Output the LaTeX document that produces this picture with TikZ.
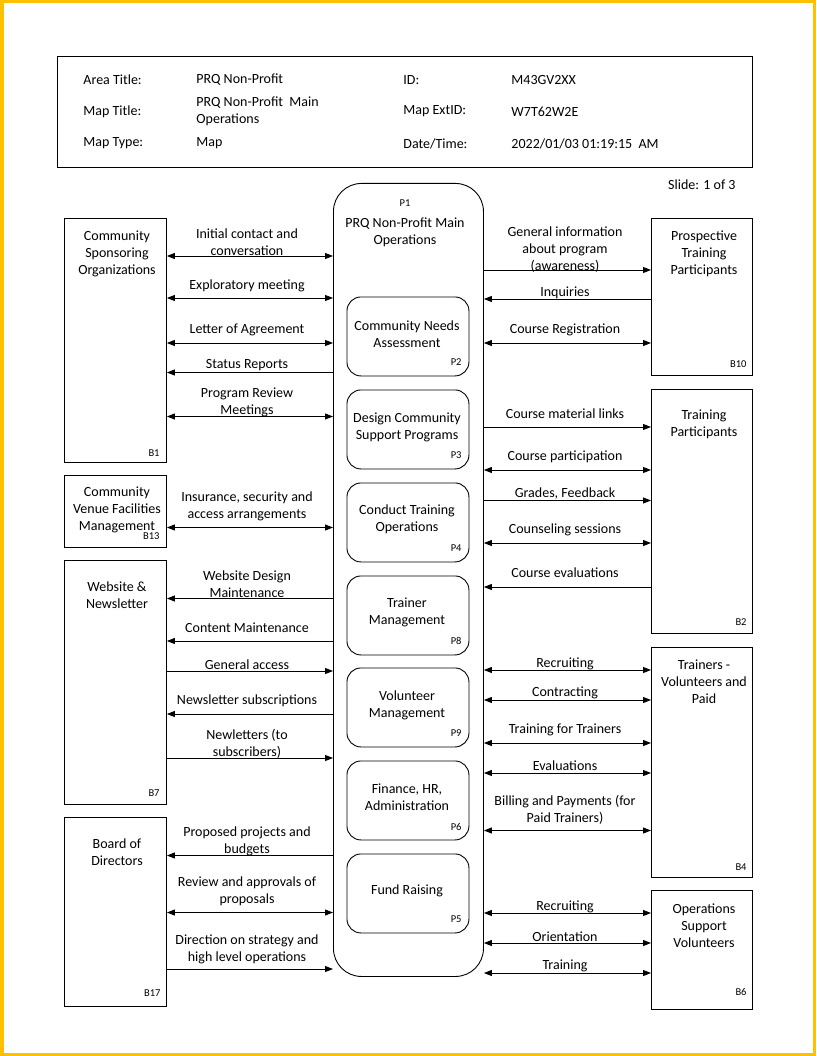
\documentclass[tikz,border=0pt]{standalone}
\usepackage{fontspec}
\setmainfont{Carlito}
\usetikzlibrary{arrows.meta}
\definecolor{frameyellow}{RGB}{255,192,0}
\begin{document}
\begin{tikzpicture}[x=1pt,y=-1pt,line width=0.9pt,
  txt/.style={font=\fontsize{14}{17}\selectfont, align=center, inner sep=0pt, yshift=-1.5pt},
  lft/.style={font=\fontsize{14}{17}\selectfont, align=left, anchor=west, inner sep=0pt, yshift=-1pt},
  idl/.style={font=\fontsize{10.5}{12}\selectfont, inner sep=0pt, anchor=east},
  ext/.style={draw, rectangle, inner sep=0pt, anchor=north west},
  proc/.style={draw, rectangle, rounded corners=14pt, inner sep=0pt, anchor=north west, minimum width=122pt, minimum height=79pt},
  tip/.style={-{Triangle[length=8pt,width=6pt]}},
  both/.style={{Triangle[length=8pt,width=6pt]}-{Triangle[length=8pt,width=6pt]}}]
\useasboundingbox (0,0) rectangle (816,1056);
\draw[frameyellow, line width=3.5pt] (1.75,1.75) rectangle (814.25,1054.25);

% header
\node[ext, minimum width=695pt, minimum height=111pt] (hdr) at (57,56) {};
\node[lft] (h1) at (83,79) {Area Title:};
\node[lft] (h2) at (83,110.5) {Map Title:};
\node[lft] (h3) at (83,142.5) {Map Type:};
\node[lft] (h4) at (196,79) {PRQ Non-Profit};
\node[lft] (h5) at (196,110.5) {PRQ Non-Profit\ \ Main\\Operations};
\node[lft] (h6) at (196,142.5) {Map};
\node[lft] (h7) at (403,79) {ID:};
\node[lft] (h8) at (403,110.5) {Map ExtID:};
\node[lft] (h9) at (403,142.5) {Date/Time:};
\node[lft] (h10) at (511,79) {M43GV2XX};
\node[lft] (h11) at (511,110.5) {W7T62W2E};
\node[lft] (h12) at (511,142.5) {2022/01/03 01:19:15\ \ AM};
\node[txt, anchor=east] (slide) at (736,183) {Slide: 1 of 3};

% main process
\node[draw, rectangle, rounded corners=28pt, inner sep=0pt, anchor=north west, minimum width=150pt, minimum height=793pt] (P1) at (333,183) {};
\node[idl, anchor=center] (P1id) at (405,203) {P1};
\node[txt] (P1t) at (405,231) {PRQ Non-Profit Main\\Operations};

% sub processes
\node[proc] (P2) at (346.5,296.5) {};
\node[txt] (P2t) at (407,333) {Community Needs\\Assessment};
\node[idl] (P2id) at (462,362) {P2};
\node[proc] (P3) at (346.5,389.5) {};
\node[txt] (P3t) at (407,426) {Design Community\\Support Programs};
\node[idl] (P3id) at (462,455) {P3};
\node[proc] (P4) at (346.5,482.5) {};
\node[txt] (P4t) at (407,518) {Conduct Training\\Operations};
\node[idl] (P4id) at (462,548) {P4};
\node[proc] (P8) at (346.5,575.5) {};
\node[txt] (P8t) at (407,611) {Trainer\\Management};
\node[idl] (P8id) at (462,641) {P8};
\node[proc] (P9) at (346.5,667.5) {};
\node[txt] (P9t) at (407,704) {Volunteer\\Management};
\node[idl] (P9id) at (462,733) {P9};
\node[proc] (P6) at (346.5,760.5) {};
\node[txt] (P6t) at (407,796) {Finance, HR,\\Administration};
\node[idl] (P6id) at (462,827) {P6};
\node[proc] (P5) at (346.5,853.5) {};
\node[txt] (P5t) at (407,889.5) {Fund Raising};
\node[idl] (P5id) at (462,919) {P5};

% left external boxes
\node[ext, minimum width=102pt, minimum height=244pt] (B1) at (64,218) {};
\node[txt] (B1t) at (117,252.5) {Community\\Sponsoring\\Organizations};
\node[idl] (B1id) at (160,453) {B1};
\node[ext, minimum width=102pt, minimum height=72pt] (B13) at (64,475) {};
\node[txt] (B13t) at (117,508.5) {Community\\Venue Facilities\\Management};
\node[idl] (B13id) at (160,536) {B13};
\node[ext, minimum width=102pt, minimum height=244pt] (B7) at (64,560) {};
\node[txt] (B7t) at (117,593.5) {Website \&\\Newsletter};
\node[idl] (B7id) at (160,793) {B7};
\node[ext, minimum width=102pt, minimum height=189pt] (B17) at (64,817) {};
\node[txt] (B17t) at (117,851) {Board of\\Directors};
\node[idl] (B17id) at (161,993) {B17};

% right external boxes
\node[ext, minimum width=101pt, minimum height=157pt] (B10) at (651,218) {};
\node[txt] (B10t) at (704,252) {Prospective\\Training\\Participants};
\node[idl] (B10id) at (747,364) {B10};
\node[ext, minimum width=101pt, minimum height=244pt] (B2) at (651,389) {};
\node[txt] (B2t) at (704,422.5) {Training\\Participants};
\node[idl] (B2id) at (747,622) {B2};
\node[ext, minimum width=101pt, minimum height=230pt] (B4) at (651,646.5) {};
\node[txt] (B4t) at (704,680) {Trainers -\\Volunteers and\\Paid};
\node[idl] (B4id) at (747,867) {B4};
\node[ext, minimum width=101pt, minimum height=119pt] (B6) at (651,890) {};
\node[txt] (B6t) at (704,924) {Operations\\Support\\Volunteers};
\node[idl] (B6id) at (747,992) {B6};

% left connectors
\draw[both] (B1.east |- 0,256) -- (P1.west |- 0,256);
\node[txt] (l1) at (247,241) {Initial contact and\\conversation};
\draw[both] (B1.east |- 0,298) -- (P1.west |- 0,298);
\node[txt] (l2) at (247,284) {Exploratory meeting};
\draw[both] (B1.east |- 0,343) -- (P1.west |- 0,343);
\node[txt] (l3) at (247,328) {Letter of Agreement};
\draw[tip] (P1.west |- 0,372.5) -- (B1.east |- 0,372.5);
\node[txt] (l4) at (247,364) {Status Reports};
\draw[both] (B1.east |- 0,416.5) -- (P1.west |- 0,416.5);
\node[txt] (l5) at (247,401) {Program Review\\Meetings};
\draw[both] (B13.east |- 0,527.5) -- (P1.west |- 0,527.5);
\node[txt] (l6) at (247,505) {Insurance, security and\\access arrangements};
\draw[tip] (P1.west |- 0,598.5) -- (B7.east |- 0,598.5);
\node[txt] (l7) at (247,582.5) {Website Design\\Maintenance};
\draw[tip] (P1.west |- 0,641) -- (B7.east |- 0,641);
\node[txt] (l8) at (247,626) {Content Maintenance};
\draw[tip] (B7.east |- 0,671) -- (P1.west |- 0,671);
\node[txt] (l9) at (247,663) {General access};
\draw[tip] (P1.west |- 0,714) -- (B7.east |- 0,714);
\node[txt] (l10) at (247,699) {Newsletter subscriptions};
\draw[tip] (B7.east |- 0,758) -- (P1.west |- 0,758);
\node[txt] (l11) at (247,742.5) {Newletters (to\\subscribers)};
\draw[tip] (P1.west |- 0,855.5) -- (B17.east |- 0,855.5);
\node[txt] (l12) at (247,840) {Proposed projects and\\budgets};
\draw[both] (B17.east |- 0,912.5) -- (P1.west |- 0,912.5);
\node[txt] (l13) at (247,890) {Review and approvals of\\proposals};
\draw[tip] (B17.east |- 0,969) -- (P1.west |- 0,969);
\node[txt] (l14) at (247,947.5) {Direction on strategy and\\high level operations};

% right connectors
\draw[tip] (P1.east |- 0,270) -- (B10.west |- 0,270);
\node[txt] (r1) at (565,248) {General information\\about program\\(awareness)};
\draw[tip] (B10.west |- 0,299) -- (P1.east |- 0,299);
\node[txt] (r2) at (565,291) {Inquiries};
\draw[both] (P1.east |- 0,343) -- (B10.west |- 0,343);
\node[txt] (r3) at (565,328) {Course Registration};
\draw[tip] (P1.east |- 0,427) -- (B2.west |- 0,427);
\node[txt] (r4) at (565,412) {Course material links};
\draw[both] (P1.east |- 0,470) -- (B2.west |- 0,470);
\node[txt] (r5) at (565,455) {Course participation};
\draw[tip] (P1.east |- 0,500.5) -- (B2.west |- 0,500.5);
\node[txt] (r6) at (565,492) {Grades, Feedback};
\draw[both] (P1.east |- 0,543) -- (B2.west |- 0,543);
\node[txt] (r7) at (565,528) {Counseling sessions};
\draw[tip] (B2.west |- 0,587) -- (P1.east |- 0,587);
\node[txt] (r8) at (565,571) {Course evaluations};
\draw[both] (P1.east |- 0,670) -- (B4.west |- 0,670);
\node[txt] (r9) at (565,662) {Recruiting};
\draw[both] (P1.east |- 0,700) -- (B4.west |- 0,700);
\node[txt] (r10) at (565,691) {Contracting};
\draw[both] (P1.east |- 0,743) -- (B4.west |- 0,743);
\node[txt] (r11) at (565,728) {Training for Trainers};
\draw[both] (P1.east |- 0,773) -- (B4.west |- 0,773);
\node[txt] (r12) at (565,764) {Evaluations};
\draw[both] (P1.east |- 0,830.5) -- (B4.west |- 0,830.5);
\node[txt] (r13) at (565,808) {Billing and Payments (for\\Paid Trainers)};
\draw[both] (P1.east |- 0,913) -- (B6.west |- 0,913);
\node[txt] (r14) at (565,905) {Recruiting};
\draw[both] (P1.east |- 0,943) -- (B6.west |- 0,943);
\node[txt] (r15) at (565,935) {Orientation};
\draw[both] (P1.east |- 0,973) -- (B6.west |- 0,973);
\node[txt] (r16) at (565,964) {Training};
\end{tikzpicture}
\end{document}
